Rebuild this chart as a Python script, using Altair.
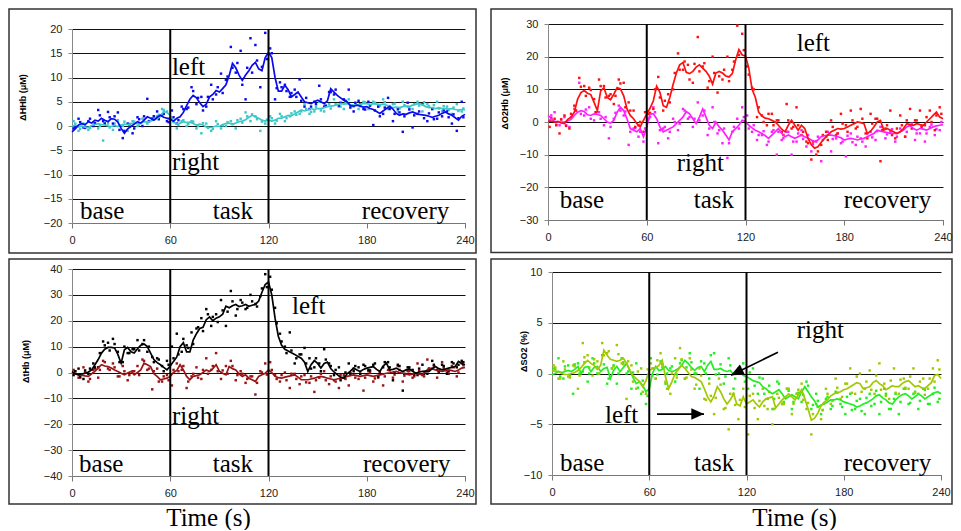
import altair as alt
import pandas as pd

# ---------------- data ----------------
LINE_T0, LINE_DT = 0, 2      # smoothed traces: one value every 2 s
DOT_T0, DOT_DT = 1, 3        # raw samples (first set): t = 1, 4, 7, ...
DOT2_T0 = 2                  # raw samples (second set): t = 2, 5, 8, ...
X_TICKS = [0, 60, 120, 180, 240]
PHASES = [60, 120]

hhb_left = [
    -1.2, -0.6, 0.2, 0.5, 0.3, 0.9, 0.6, 1.2, 1.0, 1.6,
    1.2, 0.9, 1.5, 1.4, 0.8, -0.5, -1.5, -0.6, -0.1, 0.4,
    0.9, 0.6, 1.2, 1.9, 1.6, 1.2, 1.8, 2.2, 1.8, 1.6,
    1.4, 1.0, 1.6, 1.9, 2.8, 4.2, 5.5, 6.3, 5.8, 4.8,
    4.0, 4.5, 6.0, 6.5, 7.3, 7.0, 7.7, 8.5, 10.4, 12.9,
    12.0, 10.5, 9.4, 10.5, 11.4, 12.5, 13.1, 11.8, 11.4, 14.1,
    15.2, 14.1, 10.0, 7.2, 7.2, 8.4, 7.5, 6.0, 6.5, 7.0,
    6.0, 5.0, 4.8, 4.6, 5.0, 5.3, 5.0, 4.6, 5.2, 7.7,
    7.0, 6.3, 5.8, 5.3, 5.0, 4.2, 4.1, 4.3, 4.1, 3.9,
    4.0, 3.6, 3.4, 3.0, 2.6, 3.1, 3.6, 4.0, 3.5, 2.6,
    2.2, 2.5, 2.4, 2.7, 2.9, 2.6, 2.4, 2.3, 2.2, 2.0,
    1.8, 2.0, 2.2, 2.6, 2.9, 2.5, 2.2, 1.7, 1.2, 2.0,
    2.4]
hhb_right = [
    -0.1, 0.2, -0.2, 0.0, -0.3, -0.3, 0.1, 0.3, 0.5, 0.3,
    0.2, 0.0, -0.1, 0.1, -0.1, 0.2, 0.4, 0.3, 0.5, 0.6,
    0.5, 0.6, 0.9, 0.8, 1.0, 1.3, 1.5, 2.0, 3.0, 2.8,
    2.2, 0.9, 0.4, 0.6, 0.9, 0.7, 0.8, 0.5, 0.2, 0.4,
    0.2, -0.2, -0.3, -0.2, 0.0, -0.1, 0.3, 0.5, 0.6, 0.3,
    0.6, 0.9, 1.0, 1.3, 1.8, 2.2, 1.9, 1.6, 1.2, 1.0,
    1.2, 1.0, 1.2, 1.6, 1.6, 1.9, 2.2, 2.1, 2.5, 2.9,
    3.3, 3.1, 3.3, 3.6, 3.4, 3.6, 3.6, 3.8, 4.0, 4.1,
    4.2, 4.4, 4.6, 4.5, 4.6, 4.4, 4.3, 4.3, 4.5, 4.6,
    4.6, 4.4, 4.6, 4.5, 4.4, 4.5, 4.3, 4.0, 3.8, 3.9,
    3.8, 4.0, 4.1, 4.0, 4.3, 4.5, 4.6, 4.4, 4.0, 3.8,
    3.8, 3.6, 3.8, 3.6, 3.6, 3.5, 3.6, 3.4, 3.3, 3.4,
    3.3]
hhb_left_dots = [
    -0.5, 1.5, -0.3, 1.0, 0.0, 3.3, 1.0, 2.9, 0.5, 2.8,
    -2.5, 0.5, -1.5, 1.8, 0.0, 5.6, 1.5, 3.0, 2.3, 1.0,
    3.2, 0.5, 4.0, 3.5, 8.0, 4.5, 6.0, 4.0, 8.5, 6.5,
    10.8, 9.5, 16.3, 11.0, 15.5, 5.5, 18.1, 16.7, 8.0, 19.2,
    16.0, 5.5, 9.0, 8.5, 6.0, 7.5, 9.6, 4.0, 3.5, 5.0,
    8.3, 4.0, 7.0, 6.5, 4.2, 5.5, 7.5, 3.0, 5.2, 3.5,
    5.0, 0.2, 4.0, 2.5, 5.8, 1.0, 3.5, -1.2, 4.8, -0.3,
    2.5, 4.5, 1.0, 3.5, 1.5, 2.0, 3.0, 0.5, -1.0, 5.0]
hhb_left_dots2 = [
    -0.2, 0.8, -0.4, 1.5, 0.6, 2.2, 0.5, 1.8, 2.0, -0.8,
    -1.0, 0.4, -0.5, 1.4, 2.0, 1.0, 2.0, 1.4, 2.5, 0.8,
    1.8, 1.2, 3.5, 3.8, 7.2, 5.8, 3.2, 6.0, 5.5, 8.0,
    6.8, 10.2, 12.0, 13.0, 8.5, 12.0, 11.0, 13.5, 12.2, 13.8,
    15.0, 7.8, 8.0, 7.2, 6.8, 6.0, 5.2, 5.8, 4.0, 4.5,
    5.5, 4.2, 7.0, 7.5, 4.8, 5.2, 3.8, 4.8, 4.5, 3.4,
    4.2, 3.2, 2.0, 3.8, 3.5, 2.5, 2.8, 2.0, 3.4, 2.2,
    3.0, 1.6, 2.6, 1.4, 2.8, 3.2, 1.8, 2.4, 1.6, 1.8]
hhb_right_dots = [
    1.0, -1.0, 0.5, -0.8, 0.8, -0.5, -3.0, 0.5, -0.8, 1.2,
    0.0, -1.0, 1.0, 0.0, 1.5, 0.5, 1.5, 2.0, 3.5, 3.0,
    1.5, -0.5, 1.0, 0.0, 1.0, -0.5, -1.5, 0.5, -1.0, 1.0,
    -0.5, 0.0, 1.0, -0.5, 1.5, 2.8, 1.0, 2.0, -1.0, 0.5,
    2.0, 0.5, 2.5, 1.0, 2.0, 3.0, 2.5, 4.5, 2.5, 3.0,
    5.0, 3.0, 4.5, 5.5, 4.0, 3.5, 5.5, 4.0, 3.5, 5.0,
    3.5, 5.0, 4.0, 5.5, 3.5, 4.5, 3.0, 5.0, 4.0, 3.5,
    5.0, 3.0, 4.5, 3.5, 5.0, 3.0, 4.0, 2.5, 4.5, 3.0]
hhb_right_dots2 = [
    0.5, -0.6, 0.1, -0.4, 0.6, 0.0, 0.6, -0.3, 0.5, 0.1,
    0.9, 0.2, 0.9, 0.3, 1.3, 1.0, 2.0, 2.3, 3.3, 1.6,
    0.8, 0.2, 1.2, 0.4, 0.9, 0.0, 0.6, -0.4, -0.6, 0.4,
    0.1, 0.8, 0.4, 1.2, 0.7, 2.0, 2.4, 1.4, 0.9, 1.3,
    1.6, 1.1, 2.0, 1.6, 2.6, 2.3, 3.0, 3.5, 2.9, 3.9,
    3.2, 4.0, 3.6, 4.5, 4.0, 4.8, 4.2, 4.7, 4.1, 4.9,
    4.3, 4.8, 4.2, 4.9, 4.1, 4.6, 3.6, 4.3, 3.7, 4.5,
    4.2, 4.9, 4.1, 4.3, 3.6, 4.1, 3.3, 3.8, 3.1, 3.6]

o2hb_left = [
    0.2, 0.3, 0.0, 0.2, -0.3, -0.5, 0.8, 1.5, 3.0, 7.0,
    9.0, 9.6, 8.8, 8.4, 6.0, 3.5, 9.5, 10.5, 7.5, 6.8,
    8.5, 10.5, 10.1, 8.0, 4.0, 2.0, 1.0, -0.5, -1.5, 0.5,
    2.5, 4.2, 6.5, 11.0, 9.1, 5.0, 4.5, 7.5, 11.5, 15.0,
    17.5, 18.2, 15.2, 14.8, 15.5, 16.8, 17.5, 16.5, 15.5, 14.0,
    11.6, 15.0, 15.5, 15.0, 14.1, 13.8, 14.8, 19.0, 22.2, 20.5,
    20.2, 16.5, 10.0, 7.5, 3.0, 1.8, 1.2, 1.0, 0.5, 0.0,
    -1.0, -2.2, -3.0, -1.0, 0.5, -1.0, -2.5, -1.0, -2.0, -5.0,
    -7.0, -8.0, -7.6, -6.2, -5.0, -4.0, -3.0, -2.5, -2.0, -2.2,
    -2.0, -1.5, -1.0, -0.5, 0.0, -0.2, -0.5, -3.5, -2.8, -1.5,
    0.0, 0.5, -2.5, -2.0, -2.5, -3.0, -3.5, -3.0, -2.0, -0.5,
    -0.8, -1.0, -0.5, -0.8, -1.0, 0.0, 1.0, 2.0, 3.0, 1.5,
    1.0]
o2hb_right = [
    2.0, 1.0, 0.2, 0.0, 0.0, 0.0, 0.3, 0.8, 2.0, 3.0,
    3.5, 3.2, 2.2, 2.0, 2.5, 2.3, 2.0, 1.0, 0.0, -0.3,
    0.5, 3.0, 4.5, 3.5, 1.0, -2.0, -2.5, -3.0, -2.0, -4.5,
    -1.5, 2.5, 2.5, 1.0, -1.5, -3.0, -2.5, -2.0, -1.5, -0.5,
    0.5, 1.5, 3.2, 2.5, 1.0, -0.5, 1.5, 4.0, 1.5, -1.0,
    -2.0, 0.0, -1.5, -2.5, -4.0, -5.5, -3.0, -2.0, -1.0, 0.5,
    0.2, -1.0, -1.8, -2.5, -3.0, -3.5, -4.2, -5.0, -4.0, -3.0,
    -2.0, -3.5, -4.5, -4.0, -4.5, -5.0, -4.5, -4.0, -4.5, -5.0,
    -5.5, -6.0, -5.5, -4.5, -4.2, -4.0, -4.0, -4.2, -4.5, -4.8,
    -5.5, -5.2, -5.0, -5.2, -5.5, -5.2, -5.0, -4.5, -4.0, -3.5,
    -2.5, -2.8, -3.0, -3.2, -3.5, -3.5, -3.5, -3.0, -2.5, -1.5,
    -1.0, -2.0, -2.5, -2.0, -2.2, -2.5, -2.0, -1.5, -1.2, -1.0,
    -0.8]
o2hb_left_dots = [
    -1.5, 1.0, -3.5, 2.0, -2.0, 5.0, 13.5, 11.0, 10.5, 7.0,
    13.0, 11.0, 8.0, 5.5, 13.0, 12.0, 6.0, 3.5, -1.0, -3.0,
    2.5, 4.0, 13.8, 3.5, 8.5, 10.0, 21.0, 16.0, 17.5, 12.0,
    26.0, 17.0, 10.5, 20.0, 9.0, 13.0, 20.0, 16.0, 29.5, 27.0,
    17.0, 10.5, 1.5, 2.0, -1.0, 2.5, 0.5, -3.0, 5.5, -2.0,
    4.5, -4.0, -6.0, -11.5, -10.0, -7.0, -3.0, 0.5, -4.0, 2.5,
    -1.0, 3.5, -2.0, 4.0, -3.5, 2.5, 1.0, -12.0, -2.0, 3.5,
    -5.0, 2.0, -4.5, 4.0, 0.5, 3.5, -1.0, 3.5, -2.5, 4.5]
o2hb_left_dots2 = [
    1.2, -1.0, 0.8, -1.2, 2.5, 3.5, 10.8, 8.0, 9.8, 3.0,
    11.0, 7.5, 8.5, 8.0, 11.8, 4.5, 3.5, -1.5, 0.0, 3.0,
    2.8, 10.0, 7.5, 6.5, 6.0, 15.0, 16.0, 18.5, 13.0, 17.8,
    15.5, 18.0, 12.5, 15.0, 14.0, 16.0, 12.5, 18.5, 20.5, 22.0,
    14.5, 10.0, 4.5, 0.0, 2.5, -1.0, 0.5, -4.0, 0.5, -1.5,
    -1.0, -3.0, -6.5, -6.0, -9.0, -4.0, -5.5, -1.5, -3.5, -0.5,
    -3.0, 0.5, -1.5, 1.0, -5.0, -0.5, 1.0, -2.5, -1.0, -4.0,
    -2.0, -1.0, 0.5, -2.0, 0.5, -1.5, 1.5, 0.0, 2.0, 2.5]
o2hb_right_dots = [
    0.5, 3.0, -1.0, 1.5, -1.5, 4.0, 12.0, 2.0, 4.5, 0.5,
    3.0, -1.0, -5.0, 1.0, 5.0, 2.0, -7.0, -2.0, -4.5, -6.0,
    1.0, 4.5, -6.5, -2.0, -5.0, 1.0, -2.5, 4.0, 1.0, -1.5,
    6.0, 2.0, -4.0, 4.5, -3.5, -6.5, -11.0, -3.0, 1.0, 4.5,
    2.0, -3.0, -5.5, -4.0, -7.0, -3.0, -10.0, -5.5, -3.0, -10.0,
    -6.0, -2.5, -7.5, -9.0, -6.0, -12.0, -4.5, -9.0, -5.0, -6.5,
    -10.5, -3.5, -7.0, -5.0, -7.5, -3.0, -5.5, -1.5, -5.0, -3.0,
    -6.0, -2.0, -4.5, -1.0, -5.5, -3.5, -6.0, -1.5, -4.0, -2.5]
o2hb_right_dots2 = [
    2.0, -0.8, 0.8, -1.0, 1.5, 3.5, 2.5, 3.8, 1.0, 3.0,
    1.0, 1.5, -1.5, 2.8, 3.5, 3.2, -3.0, -1.8, -3.0, -2.0,
    1.5, 3.0, -2.5, -1.5, -3.0, 0.0, -0.5, 3.5, 1.5, 1.0,
    0.5, 3.5, -2.0, 0.0, -2.5, -2.0, -6.5, -1.5, -2.0, 1.5,
    -2.0, -1.0, -4.0, -2.8, -6.0, -2.5, -3.0, -5.0, -3.0, -6.0,
    -3.5, -5.2, -4.0, -6.8, -4.5, -5.5, -3.0, -5.2, -3.5, -6.0,
    -4.2, -6.2, -4.5, -6.0, -3.5, -4.7, -2.8, -1.5, -3.8, -2.2,
    -4.5, -2.5, -3.0, -0.5, -3.5, -1.2, -3.5, -0.8, -2.2, 0.0]

thb_left = [
    0.4, -0.5, -0.9, -0.5, -0.3, 0.2, 1.0, 3.0, 5.0, 7.5,
    9.0, 9.7, 9.7, 9.5, 7.0, 3.6, 8.8, 9.7, 8.0, 7.5,
    9.2, 10.5, 11.0, 10.0, 7.5, 5.0, 3.8, 3.0, 2.0, 1.0,
    2.5, 4.3, 6.0, 10.0, 11.5, 8.0, 8.0, 12.5, 15.0, 17.0,
    17.5, 20.4, 21.5, 20.0, 21.0, 21.5, 22.5, 25.6, 25.0, 25.8,
    26.3, 25.5, 25.8, 26.3, 25.6, 26.0, 26.3, 27.6, 31.0, 34.0,
    35.0, 30.0, 21.0, 14.0, 10.5, 9.0, 8.3, 7.6, 7.0, 6.2,
    5.5, 4.0, 0.4, 3.0, 4.6, 3.5, 1.7, 3.5, 4.0, 1.5,
    0.2, -0.8, -1.8, -2.2, -0.5, 0.5, 1.7, 1.0, 0.4, 1.2,
    1.7, 2.0, 2.3, 1.2, 0.4, 2.5, 3.6, 1.0, 1.2, 1.7,
    1.0, 0.4, 1.0, 1.4, 0.5, -0.3, 0.2, 0.4, 0.5, 0.4,
    1.5, 2.3, 1.5, 1.0, 1.3, 1.7, 2.0, 2.3, 4.3, 3.5,
    3.0]
thb_right = [
    0.0, -0.5, -0.9, -1.0, -1.3, -1.5, -0.5, 0.4, 1.8, 3.0,
    2.5, 2.3, 1.7, 1.0, 0.4, -0.3, -0.9, -0.2, 0.4, -0.9,
    0.0, 1.0, 3.6, 3.0, 2.3, -0.5, -1.5, -2.8, -2.5, -2.2,
    -1.5, 0.0, 0.8, 3.0, 1.0, -1.5, -2.8, -1.5, -1.2, -0.9,
    0.0, 1.0, 0.4, 1.5, 3.0, 0.5, -0.3, -0.9, 2.3, 1.5,
    1.0, -0.5, -1.5, -0.9, -2.2, -2.8, -3.5, -1.5, -0.9, -0.3,
    1.0, 0.0, -1.5, -2.0, -2.2, -1.8, -1.5, -1.2, -0.9, -1.8,
    -2.8, -2.8, -2.8, -2.5, -2.2, -1.8, -1.5, -1.8, -2.2, -2.5,
    -2.8, -2.5, -2.2, -2.0, -1.5, -1.2, -0.9, -1.2, -1.5, -1.2,
    -0.9, -1.2, -1.5, -1.2, -0.9, -0.6, -0.3, -0.1, 0.2, 0.4,
    0.0, -0.3, -0.6, -0.9, -0.6, -0.3, -0.6, -0.9, 0.4, 1.7,
    1.4, 1.0, 0.7, 0.4, 0.7, 1.0, 0.7, 0.4, 1.0, 1.7,
    2.0]
thb_left_dots = [
    -1.0, 1.5, -2.5, -0.5, 3.5, 2.0, 12.0, 11.5, 13.0, 8.0,
    4.0, 7.5, 9.0, 12.5, 11.0, 8.0, 6.0, 5.5, 2.5, 4.5,
    10.0, 15.0, 8.0, 10.5, 15.5, 17.0, 21.0, 24.5, 18.0, 22.5,
    28.0, 18.0, 31.5, 22.0, 28.0, 24.5, 30.0, 26.5, 29.5, 38.0,
    37.0, 25.0, 15.0, 10.0, 15.5, 3.5, 7.0, 9.5, 5.5, 2.0,
    3.5, 9.0, 3.5, -1.0, 2.0, -2.0, 3.5, 0.5, 2.0, 3.0,
    1.0, 3.0, -1.5, 2.0, 4.0, -3.0, 3.0, -7.0, 2.0, 1.0,
    -1.0, 3.0, -0.5, 4.5, 1.0, 3.0, -0.5, 4.0, 2.0, 4.5]
thb_left_dots2 = [
    0.5, -1.5, 0.8, 1.5, 2.0, 7.5, 10.5, 8.5, 11.0, 4.0,
    10.0, 7.5, 9.0, 8.5, 12.5, 10.0, 4.0, 5.0, 0.5, 3.0,
    5.5, 7.0, 13.0, 9.5, 11.0, 17.5, 16.0, 22.5, 21.5, 19.5,
    24.0, 23.5, 27.5, 24.5, 27.0, 25.0, 27.5, 25.5, 32.5, 33.0,
    32.0, 19.0, 12.0, 7.5, 8.5, 5.5, 7.0, 3.5, 1.5, 5.5,
    0.5, 5.0, 2.5, 1.0, -3.0, 0.0, -0.5, 2.5, -0.5, 2.5,
    0.8, 3.5, -0.5, 4.0, 2.0, 0.0, 2.5, -0.5, 2.0, -0.8,
    1.5, -0.5, 1.5, 3.0, 0.5, 2.5, 0.5, 3.5, 3.0, 4.0]
thb_right_dots = [
    1.0, -2.0, 2.0, -3.5, 1.0, -2.0, 4.5, 1.5, 3.5, -1.5,
    2.5, -3.0, 0.5, 2.5, 5.0, 1.0, -6.5, 1.5, -3.5, -1.0,
    -5.0, 3.5, 1.0, -6.0, -1.5, 2.0, -2.5, 5.5, 1.0, 7.5,
    -2.5, 2.5, 4.5, -3.0, 0.5, -4.0, -1.5, -8.5, 0.5, 3.5,
    4.0, -1.0, -3.5, 0.0, -6.0, -0.5, -4.5, -1.0, -4.0, -7.5,
    -2.0, 0.5, -4.5, -3.0, -6.0, -1.0, -5.0, 1.5, -2.5, -7.0,
    0.5, -3.5, -2.0, -5.0, 1.0, -2.0, 2.5, -3.5, 0.5, -2.0,
    3.5, -1.0, 5.0, 1.5, -2.0, 4.0, 0.0, 2.5, -1.5, 3.5]
thb_right_dots2 = [
    0.5, -2.0, 0.0, -2.5, 1.5, 1.0, 4.0, 1.0, 2.0, -1.5,
    0.5, -1.0, 0.5, -1.0, 4.5, 1.5, 0.5, -3.5, -1.5, -3.0,
    1.0, 0.5, 2.5, -3.5, -0.5, -2.0, 1.0, -0.5, 2.5, 0.5,
    0.8, -0.5, 2.5, -1.0, -0.5, -2.5, -1.5, -4.0, 0.0, -0.8,
    1.0, -2.5, -1.0, -3.0, -0.5, -2.5, -1.5, -3.8, -1.5, -3.0,
    -0.5, -3.0, -1.5, -3.5, -1.0, -2.5, -0.2, -2.0, -0.5, -2.0,
    0.0, -2.3, 0.2, -1.5, 0.8, -0.8, 1.0, -1.2, 0.5, -1.5,
    0.5, -1.5, 0.8, 2.5, 0.2, 1.8, -0.5, 2.0, 0.0, 2.8]

so2_left = [
    0.3, 0.2, 0.2, 0.0, -0.1, -0.1, 0.0, 0.1, 0.3, 0.6,
    1.0, 1.3, 1.0, 0.8, 0.4, 0.8, 2.3, 1.8, 1.4, 1.3,
    1.2, 1.3, 1.5, 1.0, 0.3, -0.2, -0.5, -0.8, -1.3, -0.7,
    0.3, 0.5, 0.6, 0.8, 1.3, -0.3, -1.5, -0.8, 0.0, 0.4,
    0.8, 0.5, 0.1, -0.3, -0.4, -0.6, -0.8, -1.5, -2.3, -2.8,
    -2.2, -1.3, -1.8, -2.5, -3.0, -2.6, -2.0, -3.0, -3.2, -2.3,
    -3.0, -2.8, -2.6, -3.0, -3.3, -2.8, -2.5, -2.4, -2.3, -3.4,
    -3.0, -2.6, -2.3, -2.0, -2.3, -2.6, -2.1, -1.6, -2.5, -3.5,
    -4.6, -4.4, -3.9, -3.2, -2.8, -2.6, -2.2, -2.0, -1.9, -1.8,
    -1.6, -1.5, -1.3, -1.1, -0.9, -1.0, -1.5, -1.4, -1.3, -0.9,
    -0.7, -1.0, -1.2, -1.6, -1.4, -1.2, -1.3, -1.3, -1.0, -0.8,
    -0.7, -1.0, -1.3, -1.2, -1.4, -1.5, -1.2, -0.9, -0.2, -0.1,
    -0.5]
so2_right = [
    -0.1, 0.0, 0.2, 0.1, 0.2, 0.3, 0.2, 0.4, 0.7, 0.0,
    0.6, 0.7, 0.2, 0.6, 0.7, 0.2, 0.5, 0.6, -0.5, 0.3,
    0.7, 0.2, 0.6, 1.0, 0.3, -0.4, -1.0, -0.8, -1.2, -1.8,
    -1.5, 0.0, 0.7, 0.3, 0.4, 0.7, 0.3, 0.2, 0.3, 0.5,
    0.8, 1.3, 1.0, 0.6, 0.3, 0.6, 0.7, 0.2, 0.8, 1.2,
    0.4, 0.4, 0.5, 0.3, 0.2, 0.3, -0.1, 0.2, 0.1, -0.2,
    -0.3, -0.5, -0.7, -0.8, -0.9, -1.3, -1.5, -1.8, -2.0, -1.8,
    -1.6, -2.0, -2.5, -2.3, -2.1, -2.3, -2.5, -1.8, -1.3, -1.8,
    -2.3, -2.7, -3.3, -3.1, -3.0, -2.8, -2.6, -2.6, -2.5, -2.6,
    -2.8, -2.9, -3.0, -3.1, -3.3, -3.2, -3.0, -2.9, -2.7, -2.5,
    -2.2, -2.1, -2.4, -2.6, -2.9, -3.0, -2.6, -2.3, -2.1, -2.0,
    -2.2, -2.5, -2.3, -2.0, -2.2, -2.5, -2.3, -2.1, -1.9, -1.8,
    -2.0]
so2_left_dots = [
    0.8, -0.5, 1.2, -0.3, 0.8, -1.5, 3.0, 1.8, -0.2, 1.2,
    3.0, 2.0, 0.5, 2.8, 1.0, -2.5, 0.8, -1.5, 0.5, -2.0,
    1.0, -0.5, 2.0, -0.8, -2.0, 1.5, 2.5, -0.5, 1.5, -1.5,
    0.5, -2.5, -1.0, -4.0, -0.5, -3.5, -5.5, -2.0, -4.5, -1.5,
    -6.0, -2.0, -4.5, -1.5, -3.5, -5.0, -2.0, -3.0, -1.5, -4.0,
    -2.0, -1.0, -3.5, -6.0, -3.0, -4.5, -1.5, -3.0, -0.5, -2.5,
    -1.0, 0.5, -2.0, 0.0, -1.5, 0.3, -2.0, 1.0, -1.0, -2.5,
    0.5, -2.0, -0.5, -1.5, 0.5, -2.0, -0.5, -1.5, 0.5, 1.3]
so2_left_dots2 = [
    0.6, -0.5, 0.4, -0.4, 0.7, -0.2, 1.6, 0.6, 1.4, 0.0,
    1.8, 2.2, 0.7, 1.9, 0.9, 1.2, -0.8, 0.2, -1.8, 0.4,
    -0.2, 1.3, 0.6, -1.5, 0.0, -0.4, 1.4, -0.4, 0.4, -1.1,
    -0.2, -2.6, -2.2, -2.4, -1.1, -3.4, -2.0, -3.1, -2.6, -3.3,
    -2.2, -3.4, -2.7, -3.2, -1.8, -3.5, -2.4, -3.0, -1.5, -3.0,
    -1.6, -2.6, -2.9, -4.0, -3.3, -3.6, -2.0, -2.7, -1.4, -2.3,
    -1.0, -1.9, -0.3, -1.8, -0.8, -1.6, -0.2, -1.6, -2.2, -0.7,
    -1.9, -0.6, -1.4, -0.3, -1.9, -0.8, -2.1, -0.5, -0.8, 0.4]
so2_right_dots = [
    0.5, 1.5, -0.5, 0.8, -2.0, 1.0, 0.2, -0.8, 1.5, 0.0,
    1.8, -1.0, 0.5, -1.0, 1.5, 0.0, -1.5, 1.0, -2.0, -3.0,
    1.5, -0.5, 1.2, -1.0, 0.5, -0.8, 1.0, -0.5, 2.0, 0.0,
    -1.5, 1.0, -0.5, 2.0, 0.0, -1.0, 1.5, -1.5, 0.5, 1.0,
    -1.5, 0.5, -2.0, -0.5, -2.5, -3.5, -0.8, -3.0, -1.5, -3.5,
    -2.0, -2.8, -0.8, -3.5, -2.0, -4.0, -2.5, -3.5, -1.8, -3.0,
    -4.0, -2.0, -3.5, -2.5, -4.0, -2.0, -3.0, -4.0, -1.5, -3.5,
    -2.5, -4.0, -1.5, -3.0, -2.0, -3.5, -1.5, -3.0, -2.0, -2.8]
so2_right_dots2 = [
    0.4, -0.3, 0.7, -0.2, 0.9, 0.0, 1.1, 0.0, 1.0, 0.0,
    0.9, -0.5, 0.8, 0.0, 1.1, 0.2, 0.1, -1.4, -0.7, -2.2,
    0.5, -0.1, 0.9, 0.0, 0.7, -0.1, 1.3, 0.6, 1.1, 0.0,
    1.2, 0.0, 1.8, -0.1, 0.9, -0.3, 0.8, -0.5, 0.6, -0.8,
    0.1, -1.2, -0.4, -2.0, -1.2, -2.5, -1.0, -2.8, -1.7, -2.8,
    -1.9, -2.1, -1.2, -3.1, -2.7, -3.6, -2.3, -3.2, -1.9, -3.3,
    -2.3, -3.6, -2.7, -3.7, -2.4, -3.2, -1.7, -2.8, -2.0, -3.5,
    -2.0, -2.8, -1.5, -2.9, -1.8, -2.7, -1.6, -3.0, -1.4, -2.5]

# annotation words: (label, t, value)
notes_hhb = [("left", 61, 10.5), ("right", 61, -9.1), ("base", 4.9, -19.2),
             ("task", 86, -19.2), ("recovery", 177, -19.2)]
notes_o2hb = [("left", 151.1, 21.7), ("right", 78.2, -15.0), ("base", 7.1, -26.3),
              ("task", 88.6, -26.3), ("recovery", 179.7, -26.3)]
notes_thb = [("left", 134.4, 22.7), ("right", 61, -19.8), ("base", 4.3, -38.3),
             ("task", 86, -38.3), ("recovery", 177.7, -38.3)]
notes_so2 = [("right", 151, 3.5), ("left", 32.7, -4.9), ("base", 4.9, -9.6),
             ("task", 87.6, -9.6), ("recovery", 180, -9.6)]
# arrows in the SO2 panel: tail (t, v) -> tip (t, v), head angle
arrow_tail_t = [139.4, 64.8]
arrow_tail_v = [2.1, -4.0]
arrow_tip_t = [110.4, 93.8]
arrow_tip_v = [-0.17, -4.0]
arrow_angle = [153.9, 0]

# ---------------- styling ----------------
SERIF = "Liberation Serif"
SANS = "Liberation Sans"


def series(vals, t0, dt):
    return pd.DataFrame({"t": [t0 + dt * i for i in range(len(vals))], "v": vals})


def dots(a, b):
    return pd.concat([series(a, DOT_T0, DOT_DT), series(b, DOT2_T0, DOT_DT)],
                     ignore_index=True)


def panel(left, right, left_dots, right_dots, colors, ydom, ystep, ytitle,
          tpos, w, top, span, border, notes, xtitle=None, arrows=False):
    # top: pixel offset of the axis maximum from the row's common top edge
    h = top + span
    xaxis = dict(values=X_TICKS, grid=False, tickSize=5, labelPadding=6,
                 labelFlush=False, domainColor="#777", tickColor="#777",
                 labelFont=SANS, labelFontSize=11, labelColor="#222")
    if xtitle:
        xaxis.update(title="Time (s)", titleFont=SERIF, titleFontSize=25,
                     titleFontWeight="normal", titleColor="#000",
                     titleX=xtitle[0], titleY=xtitle[1], titleAlign="center",
                     titleBaseline="alphabetic")
    else:
        xaxis.update(title=None)
    xenc = alt.X("t:Q", scale=alt.Scale(domain=[0, 240], nice=False, zero=False),
                 axis=alt.Axis(**xaxis))
    yticks = list(range(ydom[0], ydom[1] + 1, ystep))
    yenc = alt.Y("v:Q", scale=alt.Scale(domain=ydom, nice=False, zero=False,
                                        range=[h, top]),
                 axis=alt.Axis(values=yticks, grid=True, gridColor="#111",
                               gridWidth=1, gridOpacity=1, tickSize=4,
                               labelPadding=6, domainColor="#888",
                               tickColor="#888", labelFont=SANS,
                               labelFontSize=11, labelColor="#222",
                               title=ytitle, titleFont=SANS,
                               titleFontSize=9, titleFontWeight="bold",
                               titleColor="#000", titleAngle=270,
                               titleAlign="center", titleBaseline="middle",
                               titleX=tpos[0], titleY=tpos[1]))
    layers = []
    layers.append(alt.Chart(right_dots)
                  .mark_square(size=6, opacity=1, color=colors[1])
                  .encode(x=xenc, y=yenc))
    layers.append(alt.Chart(left_dots)
                  .mark_square(size=6, opacity=1, color=colors[0])
                  .encode(x=xenc, y=yenc))
    layers.append(alt.Chart(series(right, LINE_T0, LINE_DT))
                  .mark_line(strokeWidth=1.7, color=colors[1])
                  .encode(x=xenc, y=yenc))
    layers.append(alt.Chart(series(left, LINE_T0, LINE_DT))
                  .mark_line(strokeWidth=1.7, color=colors[0])
                  .encode(x=xenc, y=yenc))
    layers.append(alt.Chart(pd.DataFrame({"t": PHASES}))
                  .mark_rule(color="#000", strokeWidth=2)
                  .encode(x=xenc, y=alt.value(top), y2=alt.value(h)))
    ndf = pd.DataFrame(notes, columns=["label", "t", "v"])
    layers.append(alt.Chart(ndf).mark_text(font=SERIF, fontSize=25, align="left",
                                           baseline="alphabetic", color="#000")
                  .encode(x=xenc, y=yenc, text="label:N"))
    if arrows:
        adf = pd.DataFrame({"t": arrow_tail_t, "v": arrow_tail_v,
                            "t2": arrow_tip_t, "v2": arrow_tip_v})
        layers.append(alt.Chart(adf).mark_rule(color="#000", strokeWidth=1.6)
                      .encode(x=xenc, y=yenc, x2="t2:Q", y2="v2:Q"))
        hdf = pd.DataFrame({"t": arrow_tip_t, "v": arrow_tip_v, "a": arrow_angle})
        layers.append(alt.Chart(hdf).mark_point(shape="M0,0L-1,-0.45L-1,0.45Z",
                                                filled=True, opacity=1,
                                                color="#000", size=650)
                      .encode(x=xenc, y=yenc, angle=alt.Angle("a:Q", scale=None)))
    layers.append(alt.Chart(pd.DataFrame({"k": [0]}))
                  .mark_rect(fillOpacity=0, stroke="#333", strokeWidth=1.5)
                  .encode(x=alt.value(border[0]), x2=alt.value(border[1]),
                          y=alt.value(border[2]), y2=alt.value(border[3])))
    return alt.layer(*layers).properties(width=w, height=h)


tl = panel(hhb_left, hhb_right, dots(hhb_left_dots, hhb_left_dots2),
           dots(hhb_right_dots, hhb_right_dots2),
           ["#0a0aee", "#3cc8c8"], [-20, 20], 5, "ΔHHb (μM)",
           (-50, 68), 393, 0, 194, (-63, 404, -20, 224), notes_hhb)
tr = panel(o2hb_left, o2hb_right, dots(o2hb_left_dots, o2hb_left_dots2),
           dots(o2hb_right_dots, o2hb_right_dots2),
           ["#ff1010", "#ff20ff"], [-30, 30], 10, "ΔO2Hb (μM)",
           (-44, 74), 395, -5, 196, (-57, 404, -20, 223.5), notes_o2hb)
bl = panel(thb_left, thb_right, dots(thb_left_dots, thb_left_dots2),
           dots(thb_right_dots, thb_right_dots2),
           ["#000000", "#991515"], [-40, 40], 10, "ΔtHb (μM)",
           (-47, 92), 393, 0, 207, (-63, 404, -10, 235), notes_thb,
           xtitle=(136, 49))
br = panel(so2_left, so2_right, dots(so2_left_dots, so2_left_dots2),
           dots(so2_right_dots, so2_right_dots2),
           ["#a2c800", "#22ee22"], [-10, 10], 5, "ΔSO2 (%)",
           (-29, 82), 389, 3, 203, (-61, 400, -10, 235), notes_so2,
           xtitle=(242, 50), arrows=True)

chart = (alt.vconcat(alt.hconcat(tl, tr, spacing=13),
                     alt.hconcat(bl, br, spacing=13), spacing=4)
         .properties(padding={"left": 0, "top": 0, "right": 0, "bottom": 0})
         .configure_view(stroke=None))

chart.save("out.html", embed_options={"renderer": "svg", "actions": False})
